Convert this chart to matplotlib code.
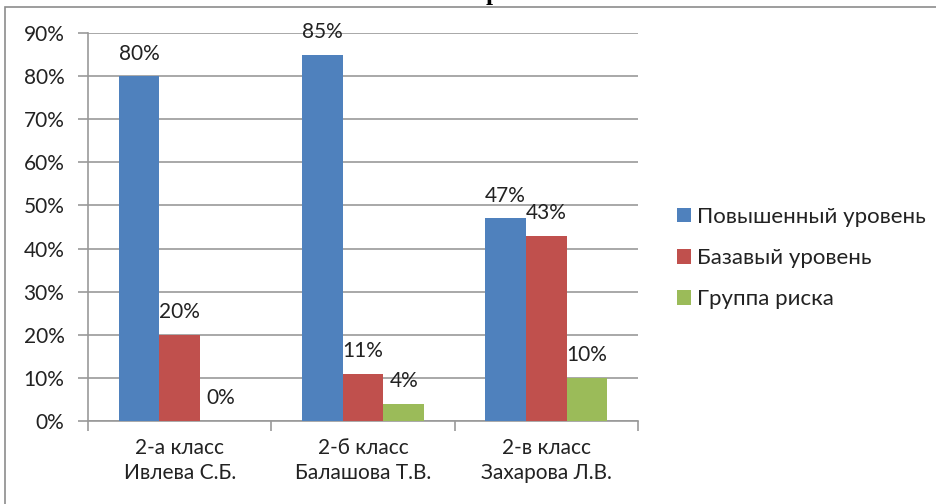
import matplotlib.pyplot as plt
import numpy as np
from matplotlib.patches import Rectangle

plt.rcParams['font.family'] = ['Lato', 'DejaVu Sans']

# Data
classes = ['2-а класс\nИвлева С.Б.', '2-б класс\nБалашова Т.В.', '2-в класс\nЗахарова Л.В.']
series_names = ['Повышенный уровень', 'Базавый уровень', 'Группа риска']
povysh = [0.80, 0.85, 0.47]
bazov = [0.20, 0.11, 0.43]
riska = [0.00, 0.04, 0.10]
colors = ['#4F81BD', '#C0504D', '#9BBB59']
yticks = [0.0, 0.1, 0.2, 0.3, 0.4, 0.5, 0.6, 0.7, 0.8, 0.9]

fig = plt.figure(figsize=(9.37, 5.04), dpi=100)
fig.patch.set_facecolor('white')

# outer chart frame (partly cut off in the reference)
fig.patches.append(Rectangle((5 / 937, -0.1), 1.1, 1 - 7 / 504 + 0.1, transform=fig.transFigure,
                             fill=False, edgecolor='#8c8c8c', linewidth=1.2))
# cut-off title fragment
fig.text(486 / 937, 1.0, 'р', fontsize=18, fontweight='bold', family='Liberation Serif',
         ha='left', va='baseline', color='black')

ax = fig.add_axes([88 / 937, 1 - 421 / 504, (638 - 88) / 937, (421 - 33) / 504])

x = np.arange(len(classes))
w = 1 / 4.5
for i, vals in enumerate([povysh, bazov, riska]):
    bars = ax.bar(x + (i - 1) * w, vals, width=w, color=colors[i], label=series_names[i], zorder=3)
    for b, v in zip(bars, vals):
        ax.annotate(f'{round(v * 100)}%', (b.get_x() + b.get_width() / 2, v),
                    xytext=(0, 9), textcoords='offset points',
                    ha='center', va='bottom', fontsize=15, color='#222222')

ax.set_xlim(-0.5, 2.5)
ax.set_ylim(0, 0.9)
ax.set_yticks(yticks)
ax.set_yticklabels([f'{round(t * 100)}%' for t in yticks])
ax.yaxis.grid(True, color='#999999', linewidth=1.2, zorder=0)
ax.set_axisbelow(True)

ax.set_xticks([-0.5, 0.5, 1.5, 2.5])
ax.set_xticklabels([])
ax.set_xticks(x, minor=True)
ax.set_xticklabels(classes, minor=True, fontsize=15, color='#222222', linespacing=1.35)
ax.tick_params(axis='x', which='minor', length=0, pad=12)
ax.tick_params(axis='x', which='major', length=7, color='#999999', width=1.2)
ax.tick_params(axis='y', length=7, color='#999999', width=1.2, labelsize=15, labelcolor='#222222', pad=10)

for s in ['top', 'right']:
    ax.spines[s].set_visible(False)
for s in ['left', 'bottom']:
    ax.spines[s].set_color('#999999')
    ax.spines[s].set_linewidth(1.2)

leg = fig.legend(loc='center left', bbox_to_anchor=(657 / 937, 1 - 258 / 504), frameon=False,
                 fontsize=16, handlelength=0.65, handleheight=0.65, handletextpad=0.25,
                 labelspacing=0.95, labelcolor='#222222')

fig.savefig('out.png', dpi=100)
